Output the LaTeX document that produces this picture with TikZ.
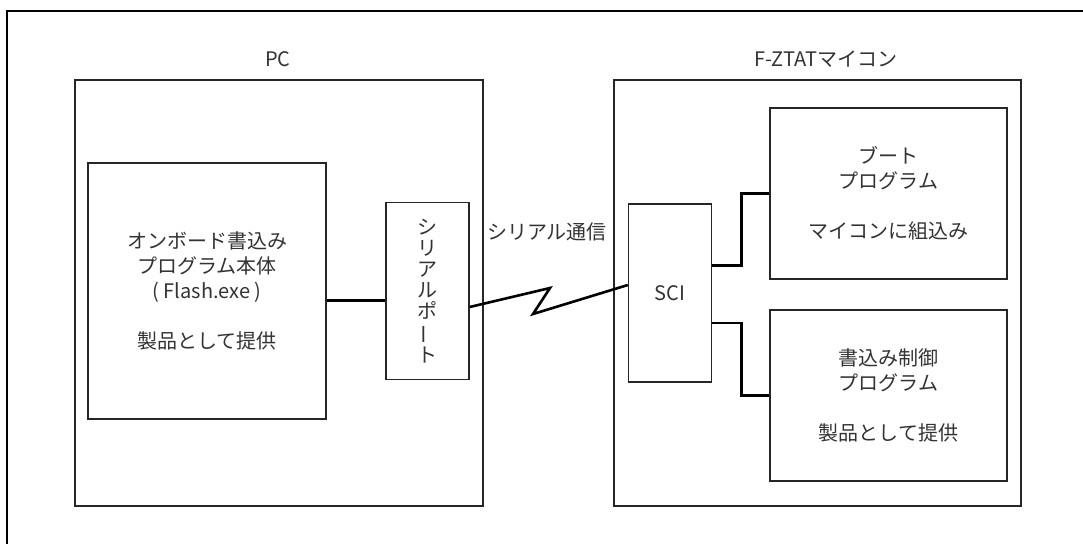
\documentclass[tikz,border=0pt]{standalone}
\usepackage{graphicx}
\usepackage{fontspec}
\setmainfont{Noto Sans CJK JP}
\begin{document}
\begin{tikzpicture}[x=0.5pt,y=-0.5pt,
  box/.style={draw=black!85,line width=0.7pt,fill=white,inner sep=0pt,align=center,
    font=\fontsize{10}{12.5}\selectfont,text=black!80},
  wire/.style={line width=1.3pt,line join=miter},
  caption/.style={font=\fontsize{10}{12}\selectfont,text=black!80}]
  \clip (0,0) rectangle (1083,543);

  % Frame
  \draw[line width=1pt] (7,560) -- (7,11) -- (1100,11);

  % PC
  \node[box,minimum width=204pt,minimum height=213pt] (pc) at (279,293) {};
  \node[caption] (pclabel) at (278,59) {PC};
  \node[box,minimum width=119pt,minimum height=128pt] (main) at (207,291)
    {オンボード書込み\\プログラム本体\\( Flash.exe )\\[12.5pt]製品として提供};
  \node[box,minimum width=41.5pt,minimum height=88.75pt,font=\fontsize{10}{10.5}\selectfont] (port) at (427.5,291)
    {シ\\リ\\ア\\ル\\ポ\\\rotatebox[origin=c]{90}{ー}\\ト};

  % F-ZTAT
  \node[box,minimum width=203.5pt,minimum height=213pt] (mcu) at (817.5,293) {};
  \node[caption] (mculabel) at (826,59) {F-ZTATマイコン};
  \node[box,minimum width=41.5pt,minimum height=89pt] (sci) at (670,293) {SCI};
  \node[box,minimum width=118.5pt,minimum height=85.5pt] (boot) at (888.5,193.5)
    {ブート\\プログラム\\[12.5pt]マイコンに組込み};
  \node[box,minimum width=118.5pt,minimum height=85.5pt] (write) at (888.5,395.5)
    {書込み制御\\プログラム\\[12.5pt]製品として提供};

  % Links
  \draw[wire] ([yshift=-4.8pt]main.east) -- ([yshift=-4.8pt]port.west);
  \coordinate (zigA) at (550,288);
  \coordinate (zigB) at (533,314);
  \draw[wire] ([yshift=-8pt]port.east) -- (zigA) -- (zigB) -- ([yshift=4pt]sci.west);
  \node[caption] (serial) at (547,232) {シリアル通信};
  \draw[wire] ([yshift=13.7pt]sci.east) -- ++(14.75pt,0) |- (boot.west);
  \draw[wire] ([yshift=-15pt]sci.east) -- ++(14.75pt,0) |- (write.west);
\end{tikzpicture}
\end{document}
